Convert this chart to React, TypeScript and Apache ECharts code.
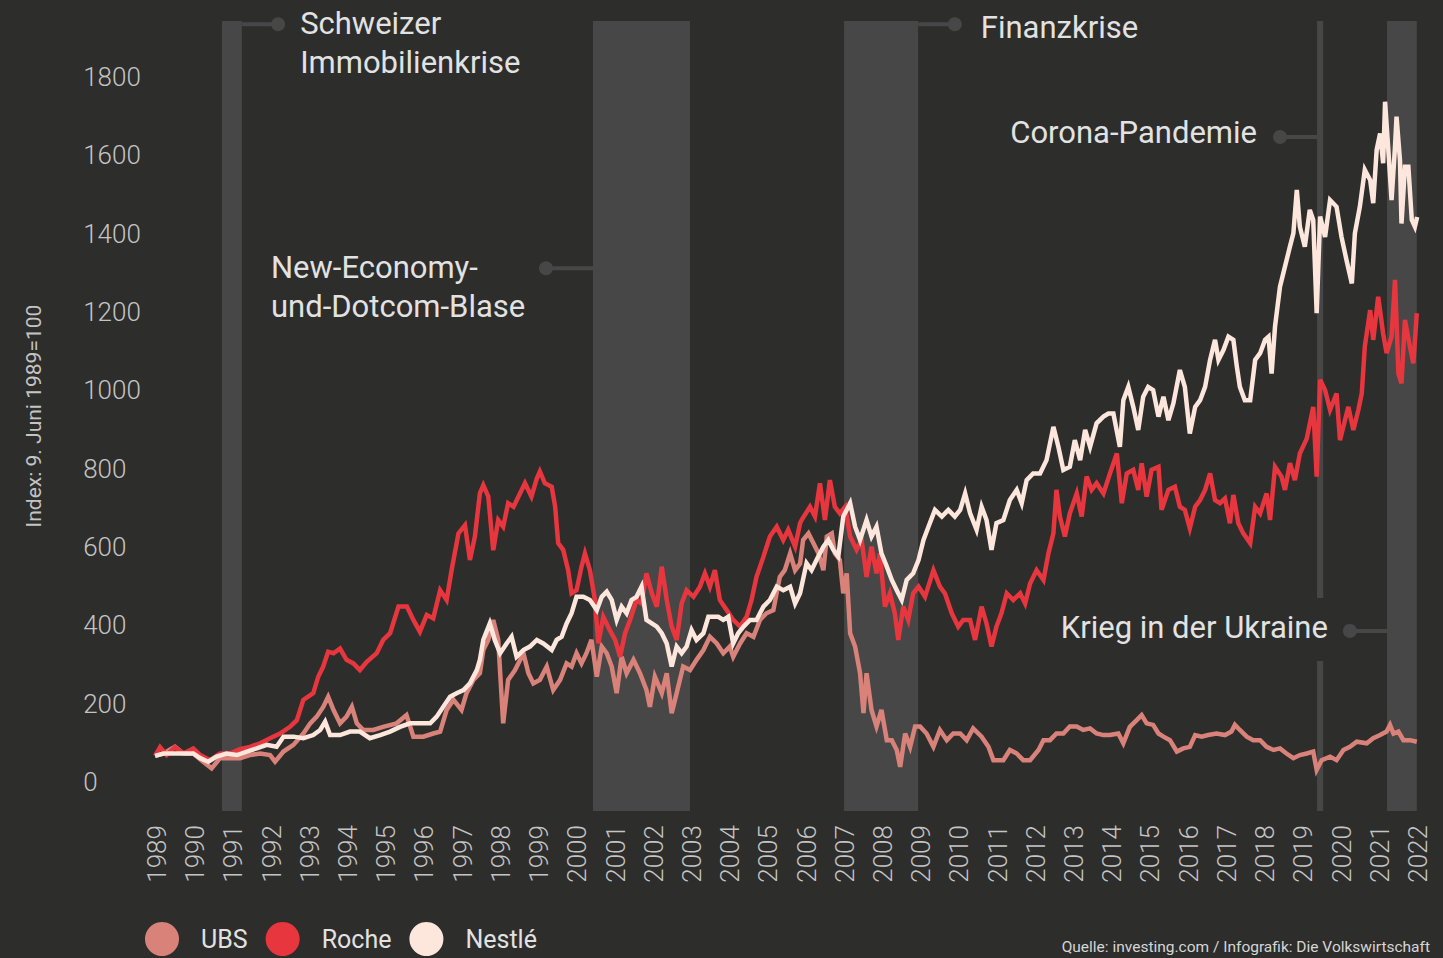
import React, { useEffect, useRef } from "react";
import * as echarts from "echarts";

// ---------- data (x = year position on the axis, y = index 9. Juni 1989 = 100) ----------
const yearTicks = [1989, 1990, 1991, 1992, 1993, 1994, 1995, 1996, 1997, 1998, 1999, 2000, 2001, 2002, 2003, 2004, 2005, 2006, 2007, 2008, 2009, 2010, 2011, 2012, 2013, 2014, 2015, 2016, 2017, 2018, 2019, 2020, 2021, 2022];
const valueTicks = [0, 200, 400, 600, 800, 1000, 1200, 1400, 1600, 1800];

const seriesNames = ["UBS", "Roche", "Nestlé"];

const ubs = [
  [1988.95, 100], [1989.17, 106], [1989.47, 123], [1989.69, 106], [1989.95, 106], [1990.21, 85], [1990.43, 68], [1990.65, 94], [1990.91, 94], [1991.17, 94], [1991.43, 102], [1991.7, 106], [1991.96, 102], [1992.09, 85], [1992.31, 111], [1992.57, 128], [1992.83, 157], [1993.01, 183], [1993.18, 200], [1993.35, 225], [1993.48, 251], [1993.62, 217], [1993.79, 183], [1993.96, 200], [1994.1, 225], [1994.23, 183], [1994.4, 166], [1994.66, 166], [1994.92, 174], [1995.27, 183], [1995.53, 204], [1995.71, 149], [1995.97, 149], [1996.23, 157], [1996.41, 162], [1996.58, 217], [1996.76, 243], [1996.97, 217], [1997.1, 260], [1997.28, 294], [1997.45, 311],
  [1997.54, 370], [1997.67, 396], [1997.8, 447], [1997.93, 396], [1998.06, 183], [1998.19, 294], [1998.37, 319], [1998.59, 362], [1998.72, 311], [1998.85, 285], [1999.02, 294], [1999.2, 328], [1999.37, 268], [1999.55, 294], [1999.72, 336], [1999.85, 328], [1999.98, 362], [2000.11, 336], [2000.24, 362], [2000.37, 396], [2000.51, 302], [2000.64, 379], [2000.77, 362], [2000.9, 328], [2001.03, 260], [2001.16, 353], [2001.29, 311], [2001.47, 345], [2001.64, 311], [2001.81, 268], [2001.9, 225], [2002.03, 302], [2002.21, 260], [2002.34, 311], [2002.47, 209], [2002.6, 260], [2002.77, 328], [2002.95, 319], [2003.12, 345], [2003.3, 370], [2003.47, 404], [2003.65, 387], [2003.82, 362], [2003.99, 379], [2004.08, 353], [2004.26, 387], [2004.43, 413], [2004.61, 404], [2004.78, 447], [2004.95, 464], [2005.13, 472], [2005.3, 557], [2005.43, 574], [2005.57, 617], [2005.7, 574], [2005.83, 591],
  [2005.91, 651], [2006.05, 668], [2006.18, 643], [2006.31, 617], [2006.44, 574], [2006.53, 660], [2006.66, 668], [2006.74, 617], [2006.87, 600], [2006.96, 515], [2007.05, 566], [2007.14, 413], [2007.27, 379], [2007.4, 311], [2007.49, 209], [2007.57, 311], [2007.7, 217], [2007.83, 175], [2007.96, 217], [2008.1, 140], [2008.23, 140], [2008.36, 115], [2008.45, 72], [2008.58, 157], [2008.71, 123], [2008.84, 175], [2008.97, 175], [2009.14, 157], [2009.32, 123], [2009.49, 166], [2009.67, 140], [2009.84, 157], [2010.02, 157], [2010.19, 140], [2010.36, 170], [2010.58, 149], [2010.76, 123], [2010.89, 89], [2011.15, 89], [2011.32, 115], [2011.5, 106], [2011.67, 89], [2011.85, 89], [2012.07, 115], [2012.2, 140], [2012.37, 140], [2012.54, 157], [2012.72, 157], [2012.89, 175], [2013.07, 175], [2013.24, 166], [2013.42, 170], [2013.59, 157], [2013.77, 153], [2013.94, 153],
  [2014.16, 157], [2014.29, 132], [2014.46, 174], [2014.64, 191], [2014.77, 204], [2014.9, 183], [2015.07, 179], [2015.21, 157], [2015.34, 149], [2015.51, 140], [2015.69, 111], [2015.86, 119], [2016.03, 123], [2016.17, 153], [2016.34, 149], [2016.51, 153], [2016.73, 157], [2016.95, 153], [2017.12, 162], [2017.21, 179], [2017.34, 166], [2017.52, 149], [2017.69, 140], [2017.87, 140], [2018.04, 123], [2018.22, 115], [2018.39, 119], [2018.56, 106], [2018.74, 94], [2018.91, 102], [2019.09, 106], [2019.26, 111], [2019.35, 64], [2019.48, 89], [2019.7, 98], [2019.87, 89], [2020.05, 115], [2020.22, 123], [2020.4, 136], [2020.66, 132], [2020.83, 145], [2021.01, 153], [2021.18, 162], [2021.27, 179], [2021.36, 157], [2021.49, 162], [2021.62, 140], [2021.79, 140], [2021.97, 136],
];

const roche = [
  [1988.95, 100], [1989.08, 122], [1989.25, 102], [1989.47, 122], [1989.69, 106], [1989.95, 119], [1990.13, 102], [1990.39, 89], [1990.65, 106], [1990.91, 106], [1991.17, 117], [1991.43, 123], [1991.7, 132], [1991.96, 145], [1992.22, 157], [1992.48, 174], [1992.66, 191], [1992.83, 243], [1993.09, 260], [1993.22, 302], [1993.35, 328], [1993.48, 366], [1993.62, 362], [1993.79, 374], [1993.96, 345], [1994.14, 336], [1994.31, 319], [1994.49, 340], [1994.75, 362], [1994.92, 396], [1995.1, 413], [1995.32, 481], [1995.54, 481], [1995.71, 447], [1995.88, 417], [1996.06, 460], [1996.23, 451], [1996.41, 523], [1996.58, 498], [1996.71, 574], [1996.89, 668], [1997.06, 689], [1997.19, 600], [1997.32, 660], [1997.45, 770],
  [1997.54, 791], [1997.67, 762], [1997.8, 625], [1997.93, 702], [1998.06, 685], [1998.19, 745], [1998.33, 736], [1998.5, 770], [1998.63, 796], [1998.8, 762], [1998.94, 808], [1999.02, 826], [1999.15, 796], [1999.33, 787], [1999.42, 736], [1999.5, 643], [1999.63, 626], [1999.76, 574], [1999.85, 515], [1999.98, 523], [2000.11, 583], [2000.2, 617], [2000.33, 574], [2000.46, 498], [2000.55, 387], [2000.68, 455], [2000.85, 421], [2000.99, 396], [2001.12, 353], [2001.25, 413], [2001.38, 447], [2001.55, 498], [2001.68, 489], [2001.81, 566], [2001.95, 515], [2002.08, 481], [2002.21, 583], [2002.34, 498], [2002.47, 430], [2002.6, 396], [2002.73, 489], [2002.86, 523], [2003.04, 506], [2003.21, 532], [2003.34, 566], [2003.47, 532], [2003.6, 574], [2003.73, 498], [2003.91, 472], [2004.08, 447], [2004.26, 430], [2004.43, 455], [2004.56, 498], [2004.69, 557], [2004.87, 608], [2005.04, 660], [2005.22, 685], [2005.39, 651], [2005.52, 677], [2005.7, 634], [2005.83, 694],
  [2005.87, 702], [2006.09, 736], [2006.22, 711], [2006.35, 796], [2006.48, 702], [2006.61, 804], [2006.74, 736], [2006.87, 719], [2007.01, 736], [2007.14, 660], [2007.31, 626], [2007.44, 651], [2007.57, 557], [2007.7, 634], [2007.83, 566], [2007.92, 617], [2008.05, 481], [2008.18, 515], [2008.31, 464], [2008.4, 396], [2008.53, 481], [2008.66, 447], [2008.79, 515], [2008.93, 532], [2009.1, 506], [2009.32, 574], [2009.49, 532], [2009.62, 515], [2009.8, 464], [2009.97, 430], [2010.1, 447], [2010.28, 447], [2010.41, 396], [2010.58, 481], [2010.71, 438], [2010.84, 379], [2010.97, 430], [2011.1, 464], [2011.24, 515], [2011.41, 498], [2011.59, 515], [2011.72, 489], [2011.85, 540], [2012.02, 574], [2012.2, 549], [2012.33, 617], [2012.46, 668], [2012.54, 779], [2012.63, 711], [2012.76, 660], [2012.89, 719], [2013.07, 770], [2013.2, 711], [2013.33, 813], [2013.46, 779], [2013.59, 796], [2013.77, 770], [2013.94, 821],
  [2014.12, 872], [2014.25, 745], [2014.38, 821], [2014.55, 830], [2014.68, 779], [2014.77, 847], [2014.9, 762], [2015.03, 830], [2015.21, 838], [2015.29, 728], [2015.47, 779], [2015.64, 787], [2015.77, 736], [2015.9, 728], [2016.03, 681], [2016.17, 736], [2016.3, 753], [2016.43, 779], [2016.56, 821], [2016.69, 753], [2016.82, 745], [2016.95, 757], [2017.08, 694], [2017.17, 766], [2017.3, 694], [2017.43, 668], [2017.61, 643], [2017.74, 736], [2017.87, 719], [2018.04, 770], [2018.13, 702], [2018.26, 838], [2018.43, 813], [2018.52, 779], [2018.65, 847], [2018.78, 804], [2018.91, 872], [2019.09, 910], [2019.26, 991], [2019.35, 813], [2019.44, 1060], [2019.57, 1034], [2019.7, 983], [2019.87, 1025], [2019.96, 906], [2020.09, 957], [2020.18, 991], [2020.31, 932], [2020.44, 983], [2020.53, 1025], [2020.61, 1145], [2020.75, 1238], [2020.83, 1162], [2020.96, 1272], [2021.09, 1178], [2021.18, 1128], [2021.31, 1170], [2021.4, 1315], [2021.49, 1076], [2021.57, 1051], [2021.66, 1213], [2021.79, 1145], [2021.88, 1102], [2021.97, 1230],
];

const nestle = [
  [1988.95, 100], [1989.17, 106], [1989.47, 106], [1989.69, 106], [1989.95, 106], [1990.13, 94], [1990.34, 85], [1990.56, 98], [1990.82, 106], [1991.09, 102], [1991.35, 111], [1991.61, 119], [1991.87, 128], [1992.13, 123], [1992.31, 149], [1992.57, 149], [1992.83, 145], [1993.09, 153], [1993.27, 166], [1993.4, 187], [1993.53, 153], [1993.79, 153], [1994.05, 162], [1994.31, 162], [1994.57, 145], [1994.84, 153], [1995.1, 162], [1995.36, 174], [1995.62, 183], [1995.88, 183], [1996.15, 183], [1996.32, 200], [1996.49, 225], [1996.67, 251], [1996.84, 260], [1997.02, 268], [1997.19, 285], [1997.37, 319], [1997.45, 345],
  [1997.54, 396], [1997.71, 438], [1997.84, 396], [1997.98, 362], [1998.15, 387], [1998.28, 404], [1998.41, 353], [1998.59, 370], [1998.76, 379], [1998.94, 396], [1999.11, 387], [1999.33, 370], [1999.46, 396], [1999.59, 404], [1999.72, 438], [1999.85, 464], [1999.98, 506], [2000.16, 506], [2000.33, 498], [2000.51, 472], [2000.64, 506], [2000.77, 519], [2000.9, 498], [2001.03, 447], [2001.16, 481], [2001.29, 464], [2001.42, 498], [2001.55, 506], [2001.68, 532], [2001.81, 447], [2001.95, 438], [2002.08, 430], [2002.21, 413], [2002.34, 387], [2002.47, 328], [2002.6, 379], [2002.73, 362], [2002.86, 379], [2002.99, 421], [2003.12, 396], [2003.3, 413], [2003.43, 455], [2003.56, 455], [2003.69, 455], [2003.82, 447], [2003.95, 455], [2004.08, 387], [2004.21, 413], [2004.35, 430], [2004.52, 447], [2004.69, 447], [2004.87, 481], [2005.04, 498], [2005.22, 532], [2005.39, 523], [2005.57, 532], [2005.7, 489], [2005.83, 515],
  [2006.0, 592], [2006.13, 574], [2006.26, 600], [2006.44, 634], [2006.57, 651], [2006.7, 626], [2006.83, 609], [2006.96, 711], [2007.14, 745], [2007.27, 685], [2007.4, 651], [2007.57, 702], [2007.7, 660], [2007.83, 685], [2007.96, 617], [2008.1, 583], [2008.23, 549], [2008.36, 523], [2008.49, 498], [2008.62, 549], [2008.79, 566], [2008.93, 600], [2009.06, 651], [2009.19, 685], [2009.36, 728], [2009.54, 711], [2009.71, 728], [2009.88, 711], [2010.02, 728], [2010.15, 770], [2010.28, 719], [2010.45, 677], [2010.58, 736], [2010.71, 702], [2010.84, 626], [2010.97, 694], [2011.15, 702], [2011.32, 753], [2011.5, 779], [2011.63, 745], [2011.76, 804], [2011.93, 821], [2012.11, 821], [2012.28, 855], [2012.46, 940], [2012.59, 889], [2012.72, 830], [2012.89, 838], [2013.02, 906], [2013.16, 855], [2013.29, 932], [2013.42, 889], [2013.59, 949], [2013.77, 966], [2013.9, 974],
  [2014.03, 974], [2014.2, 889], [2014.29, 1008], [2014.42, 1042], [2014.55, 991], [2014.68, 932], [2014.81, 1017], [2014.94, 1042], [2015.07, 1034], [2015.21, 966], [2015.34, 1017], [2015.47, 957], [2015.6, 1000], [2015.77, 1085], [2015.9, 1042], [2016.03, 923], [2016.17, 991], [2016.3, 1008], [2016.43, 1042], [2016.56, 1111], [2016.69, 1162], [2016.78, 1111], [2016.91, 1136], [2017.04, 1170], [2017.17, 1162], [2017.26, 1094], [2017.34, 1042], [2017.47, 1008], [2017.61, 1008], [2017.74, 1111], [2017.87, 1128], [2018.0, 1162], [2018.09, 1170], [2018.17, 1076], [2018.26, 1196], [2018.39, 1298], [2018.52, 1349], [2018.65, 1400], [2018.74, 1434], [2018.83, 1545], [2018.91, 1451], [2019.04, 1400], [2019.17, 1494], [2019.26, 1468], [2019.35, 1230], [2019.44, 1477], [2019.57, 1425], [2019.7, 1519], [2019.87, 1502], [2020.0, 1425], [2020.13, 1366], [2020.27, 1306], [2020.35, 1434], [2020.48, 1502], [2020.61, 1596], [2020.75, 1570], [2020.83, 1511], [2020.92, 1647], [2021.01, 1689], [2021.09, 1613], [2021.14, 1770], [2021.22, 1655], [2021.31, 1519], [2021.4, 1655], [2021.44, 1732], [2021.53, 1621], [2021.57, 1459], [2021.66, 1604], [2021.75, 1604], [2021.84, 1468], [2021.92, 1451], [2021.98, 1476],
];

// crisis periods (x in year positions)
const crisisBands = [
  [1990.7, 1991.22],
  [2000.41, 2002.95],
  [2006.98, 2008.92],
  [2021.19, 2021.97],
];
const coronaMark = [2019.36, 2019.52];
const coronaGap = [342, 503];

// annotation labels: anchor dot in data coordinates, edge = x of band edge it connects to
const annotations = [
  { lines: ["Schweizer", "Immobilienkrise"], edge: 1991.22, dot: [1992.17, 1968], align: "left", dx: 22, dy: -20 },
  { lines: ["New-Economy-", "und-Dotcom-Blase"], edge: 2000.41, dot: [1999.18, 1345], align: "left", dx: -275, dy: -20 },
  { lines: ["Finanzkrise"], edge: 2008.92, dot: [2009.88, 1968], align: "left", dx: 26, dy: -16 },
  { lines: ["Corona-Pandemie"], edge: 2019.36, dot: [2018.39, 1680], align: "right", dx: -23, dy: -24 },
  { lines: ["Krieg in der Ukraine"], edge: 2021.19, dot: [2020.22, 419], align: "right", dx: -22, dy: -23 },
];

const X_MIN = 1988.9;
const X_MAX = 2022.1;
const Y_MIN = -41;
const Y_MAX = 1976;

const BG = "#2d2d2c";
const BAND = "#474747";
const colors = ["#d9827a", "#e8363f", "#fde6dc"];
const FONT = "Roboto, 'Noto Sans', sans-serif";

export default function App() {
  const ref = useRef<HTMLDivElement>(null);

  useEffect(() => {
    if (!ref.current) return;
    const chart = echarts.init(ref.current, null, { renderer: "svg" });

    const bandData: any[] = crisisBands.map(([a, b]) => [{ xAxis: a }, { xAxis: b }]);
    bandData.push([{ xAxis: coronaMark[0], yAxis: coronaGap[1] }, { xAxis: coronaMark[1], yAxis: Y_MAX }]);
    bandData.push([{ xAxis: coronaMark[0], yAxis: Y_MIN }, { xAxis: coronaMark[1], yAxis: coronaGap[0] }]);

    const dataSets = [ubs, roche, nestle];

    const option: any = {
      animation: false,
      backgroundColor: BG,
      textStyle: { fontFamily: FONT },
      grid: {
        left: 153.18,
        right: 21.25,
        top: 21.06,
        bottom: 146.94,
        containLabel: false,
        outerBoundsMode: "none",
      },
      legend: {
        data: seriesNames,
        left: 145,
        top: 922,
        padding: 0,
        icon: "circle",
        itemWidth: 34,
        itemHeight: 34,
        itemGap: 18,
        selectedMode: false,
        itemStyle: { borderWidth: 0 },
        textStyle: { color: "#e2e2e2", fontSize: 25, fontFamily: FONT, padding: [0, 0, 0, 17] },
      },
      xAxis: {
        type: "value",
        min: X_MIN,
        max: X_MAX,
        axisLine: { show: false },
        axisTick: { show: false },
        splitLine: { show: false },
        axisLabel: {
          customValues: yearTicks,
          rotate: 90,
          margin: 14,
          color: "#c4c4c4",
          fontSize: 26,
          fontWeight: 300,
          fontFamily: FONT,
          formatter: (v: number) => String(Math.round(v)),
        },
      },
      yAxis: {
        type: "value",
        min: Y_MIN,
        max: Y_MAX,
        name: "Index: 9. Juni 1989=100",
        nameLocation: "middle",
        nameRotate: 90,
        nameGap: 109,
        nameTextStyle: { color: "#c4c4c4", fontSize: 21, fontFamily: FONT },
        axisLine: { show: false },
        axisTick: { show: false },
        splitLine: { show: false },
        axisLabel: {
          customValues: valueTicks,
          align: "left",
          verticalAlign: "bottom",
          margin: 70,
          lineHeight: 26,
          color: "#c4c4c4",
          fontSize: 26,
          fontWeight: 300,
          fontFamily: FONT,
          formatter: (v: number) => String(Math.round(v)),
        },
      },
      series: [
        {
          type: "line",
          name: "bands",
          data: [],
          silent: true,
          z: 1,
          markArea: {
            silent: true,
            label: { show: false },
            itemStyle: { color: BAND, opacity: 1, borderWidth: 0 },
            emphasis: { disabled: true },
            data: bandData,
          },
        },
        ...seriesNames.map((name, i) => ({
          type: "line",
          name,
          data: dataSets[i],
          symbol: "none",
          z: 3 + i,
          color: colors[i],
          itemStyle: { color: colors[i] },
          lineStyle: { color: colors[i], width: 4.5, join: "miter" },
          emphasis: { disabled: true },
        })),
      ],
    };

    chart.setOption(option);

    const px = (x: number, y: number) => chart.convertToPixel({ gridIndex: 0 }, [x, y]) as number[];
    const elements: any[] = [];
    annotations.forEach((a) => {
      const [dx, dy] = px(a.dot[0], a.dot[1]);
      const [ex] = px(a.edge, a.dot[1]);
      elements.push({
        type: "line",
        silent: true,
        shape: { x1: ex, y1: dy, x2: dx, y2: dy },
        style: { stroke: BAND, lineWidth: 4 },
        z: 2,
      });
      elements.push({
        type: "circle",
        silent: true,
        shape: { cx: dx, cy: dy, r: 7 },
        style: { fill: BAND },
        z: 2,
      });
      elements.push({
        type: "text",
        silent: true,
        x: dx + a.dx,
        y: dy + a.dy,
        style: {
          text: a.lines.join("\n"),
          fill: "#e2e2e2",
          fontSize: 31,
          fontFamily: FONT,
          lineHeight: 39,
          align: a.align,
          verticalAlign: "top",
        },
        z: 10,
      });
    });
    elements.push({
      type: "text",
      silent: true,
      right: 13,
      top: 939,
      style: {
        text: "Quelle: investing.com / Infografik: Die Volkswirtschaft",
        fill: "#d6d6d6",
        fontSize: 15.5,
        fontFamily: FONT,
      },
    });
    chart.setOption({ graphic: { elements } });

    return () => chart.dispose();
  }, []);

  return (
    <div
      ref={ref}
      style={{ position: "fixed", left: 0, top: 0, width: 1443, height: 958, background: BG }}
    />
  );
}
